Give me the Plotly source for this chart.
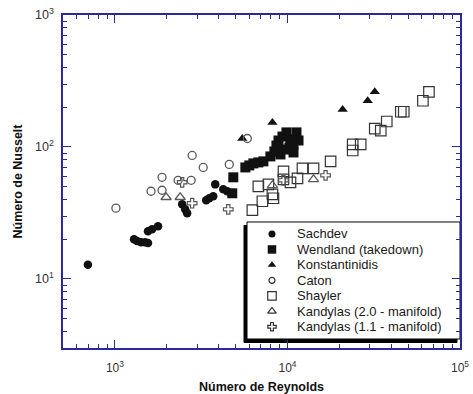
import plotly.graph_objects as go

# Nusselt vs Reynolds correlations from several exhaust-port studies
series_names = [
    "Sachdev",
    "Wendland (takedown)",
    "Konstantinidis",
    "Caton",
    "Shayler",
    "Kandylas (2.0 - manifold)",
    "Kandylas (1.1 - manifold)",
]

sachdev_re = [697, 1290, 1342, 1416, 1494, 1555, 1555, 1641, 1778, 2453, 2553, 2622,
              3381, 3520, 3713, 3814, 4246, 4477]
sachdev_nu = [12.8, 20.0, 19.4, 19.0, 19.0, 18.7, 23.0, 23.8, 25.1, 36.8, 33.7, 31.5,
              39.5, 40.9, 42.3, 52.1, 47.8, 46.2]

wendland_re = [4853, 4786, 5700, 6010, 6344, 6780, 7250, 7962, 8400, 8630, 8870, 9355,
               9865, 10410, 9735, 10270, 10840, 11280, 11590, 10840, 9110]
wendland_nu = [58.9, 44.6, 70.0, 72.5, 75.1, 76.4, 77.8, 84.8, 92.5, 102.6, 112, 120,
               129, 114, 95.7, 99.1, 104.5, 129, 112, 90.9, 87.8]

konst_re = [5472, 8180, 20880, 29170, 32060]
konst_nu = [116, 153, 192, 224, 262]

caton_re = [1013, 1619, 1875, 1875, 2323, 2766, 2803, 3249, 4600, 5851]
caton_nu = [34.4, 46.2, 47.0, 58.9, 55.9, 55.9, 86.3, 70.0, 73.8, 116]

shayler_re = [6260, 7155, 8180, 8290, 6780, 7754, 9480, 9480, 10410, 11430, 12220, 14160,
              17780, 23880, 26570, 23880, 32060, 34730, 37630, 45390, 47210, 60950, 66070]
shayler_nu = [33.2, 38.8, 43.8, 40.9, 50.3, 52.1, 65.3, 56.8, 54.0, 57.8, 68.9, 68.9,
              77.8, 104.5, 104.5, 94.1, 138, 133, 156, 185, 185, 224, 262]

kand20_re = [1980, 2388, 8180, 14160]
kand20_nu = [41.6, 41.6, 51.2, 56.8]

kand11_re = [2453, 2803, 4539, 9480, 16630]
kand11_nu = [54.0, 37.5, 33.7, 55.9, 61.0]

re_values = [sachdev_re, wendland_re, konst_re, caton_re, shayler_re, kand20_re, kand11_re]
nu_values = [sachdev_nu, wendland_nu, konst_nu, caton_nu, shayler_nu, kand20_nu, kand11_nu]

x_tick_vals = [1e3, 1e4, 1e5]
x_tick_text = ["10<sup>3</sup>", "10<sup>4</sup>", "10<sup>5</sup>"]
y_tick_vals = [1e1, 1e2, 1e3]
y_tick_text = ["10<sup>1</sup>", "10<sup>2</sup>", "10<sup>3</sup>"]

# marker styling per series
styles = [
    dict(symbol="circle", size=8.5, color="#111111", line=dict(width=0)),
    dict(symbol="square", size=10, color="#111111", line=dict(width=0)),
    dict(symbol="triangle-up", size=9, color="#111111", line=dict(width=0)),
    dict(symbol="circle-open", size=8, color="#5a5a5a", line=dict(width=1.3)),
    dict(symbol="square-open", size=10.5, color="#333333", line=dict(width=1.2)),
    dict(symbol="triangle-up-open", size=9, color="#5a5a5a", line=dict(width=1.3)),
    dict(symbol="cross-open", size=8, color="#555555", line=dict(width=1.2)),
]
key_styles = [
    dict(symbol="circle", size=7, color="#111111", line=dict(width=0)),
    dict(symbol="square", size=8.5, color="#111111", line=dict(width=0)),
    dict(symbol="triangle-up", size=7.5, color="#111111", line=dict(width=0)),
    dict(symbol="circle-open", size=6, color="#333333", line=dict(width=1.2)),
    dict(symbol="square-open", size=8.5, color="#333333", line=dict(width=1.2)),
    dict(symbol="triangle-up-open", size=7.5, color="#333333", line=dict(width=1.2)),
    dict(symbol="cross-open", size=7, color="#333333", line=dict(width=1.2)),
]

AXIS_COLOR = "#2a2a9a"
FONT = "Liberation Sans, Arial, sans-serif"

fig = go.Figure()

for name, xs, ys, st in zip(series_names, re_values, nu_values, styles):
    fig.add_trace(go.Scatter(x=xs, y=ys, mode="markers", name=name,
                             marker=st, showlegend=False, cliponaxis=False))

# legend box geometry (plot-area fractions)
box_x0, box_x1, box_y0, box_y1 = 0.4635, 1.0, 0.027, 0.3784
shadow_dx, shadow_dy = -3 / 397, -3.5 / 333
key_x = 0.5264
text_x = 0.5844
row_top = (348 - 234) / 333
row_step = 15.45 / 333

fig.add_shape(type="rect", xref="paper", yref="paper", layer="below",
              x0=box_x0 + shadow_dx, x1=box_x1 + shadow_dx,
              y0=box_y0 + shadow_dy, y1=box_y1 + shadow_dy,
              fillcolor="black", line=dict(color="black", width=1))
fig.add_shape(type="rect", xref="paper", yref="paper", layer="below",
              x0=box_x0, x1=box_x1, y0=box_y0, y1=box_y1,
              fillcolor="white", line=dict(color="black", width=1))

for i, (name, st) in enumerate(zip(series_names, key_styles)):
    yy = row_top - i * row_step
    fig.add_trace(go.Scatter(x=[key_x], y=[yy], mode="markers", marker=st,
                             xaxis="x2", yaxis="y2", showlegend=False,
                             hoverinfo="skip", cliponaxis=False))
    fig.add_annotation(x=text_x, y=yy, xref="paper", yref="paper", text=name,
                       showarrow=False, xanchor="left", yanchor="middle",
                       font=dict(family=FONT, size=13, color="#1a1a1a"))

axis_common = dict(
    type="log", showline=True, linecolor=AXIS_COLOR, linewidth=1.5,
    mirror="allticks", ticks="inside", ticklen=8, tickwidth=1.2,
    tickcolor=AXIS_COLOR, showgrid=False, zeroline=False, tickmode="array",
    automargin=False,
)

x_minor = [m * 10 ** e for e in range(2, 5) for m in range(2, 10)]
y_minor = [m * 10 ** e for e in range(0, 3) for m in range(2, 10)]

fig.update_layout(
    width=473, height=394,
    margin=dict(l=63, r=13, t=15, b=46, autoexpand=False),
    paper_bgcolor="white", plot_bgcolor="white",
    font=dict(family=FONT, color="#222222"),
    xaxis=dict(
        **axis_common, range=[2.69897, 5], ticklabelstandoff=8,
        tickvals=x_tick_vals, ticktext=x_tick_text,
        tickfont=dict(size=12, color="#333333", family=FONT),
        minor=dict(tickmode="array", tickvals=x_minor, ticks="inside",
                   ticklen=4, tickwidth=1, tickcolor=AXIS_COLOR),
        title=dict(text="<b>Número de Reynolds</b>", standoff=8,
                   font=dict(size=12.5, color="#111111", family=FONT)),
    ),
    yaxis=dict(
        **axis_common, range=[0.4771, 3], ticklabelstandoff=5,
        tickvals=y_tick_vals, ticktext=y_tick_text,
        tickfont=dict(size=12.5, color="#333333", family=FONT),
        minor=dict(tickmode="array", tickvals=y_minor, ticks="inside",
                   ticklen=4, tickwidth=1, tickcolor=AXIS_COLOR),
        title=dict(text="<b>Número de Nusselt</b>", standoff=10,
                   font=dict(size=12.5, color="#111111", family=FONT)),
    ),
    xaxis2=dict(overlaying="x", range=[0, 1], visible=False, fixedrange=True),
    yaxis2=dict(overlaying="y", range=[0, 1], visible=False, fixedrange=True),
)

fig.write_html("out.html")
